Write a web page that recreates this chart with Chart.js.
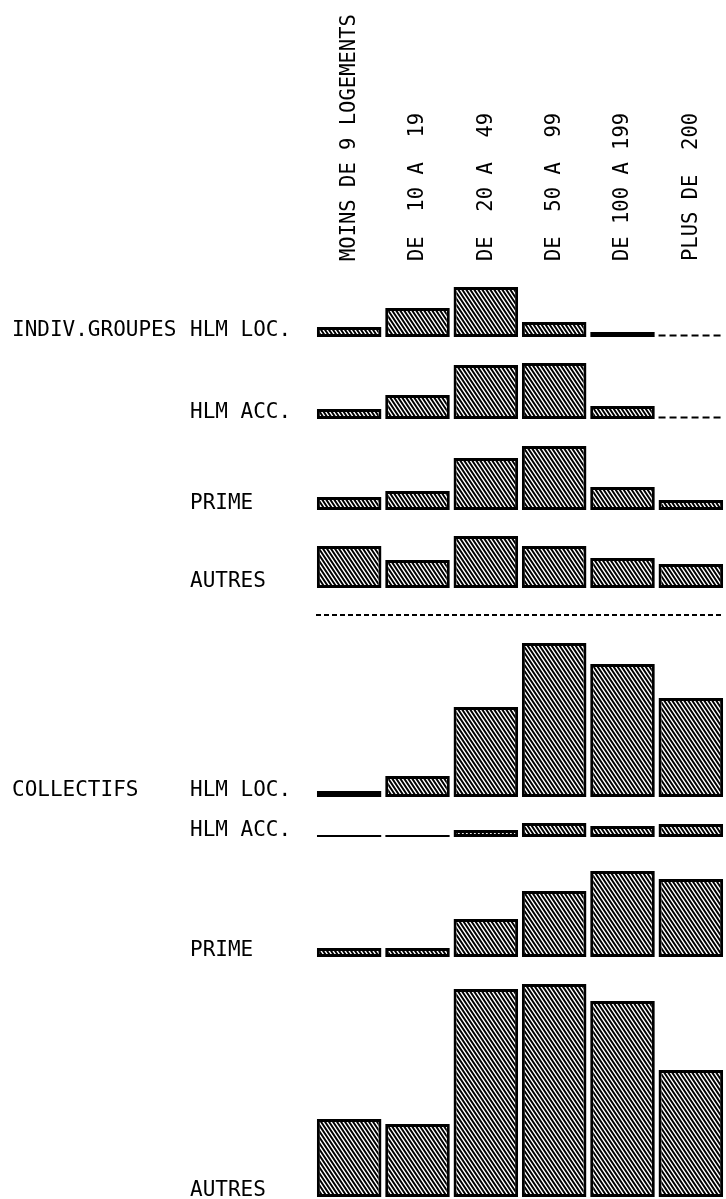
<!DOCTYPE html>
<html>
<head>
<meta charset="utf-8">
<title>Logements selon la taille de l'opération</title>
<script src="https://cdn.jsdelivr.net/npm/chart.js@4.4.1/dist/chart.umd.min.js"></script>
<style>
  html, body { margin: 0; padding: 0; background: #fff; }
  #wrap { width: 726px; height: 1199px; }
</style>
</head>
<body>
<div id="wrap"><canvas id="chart" width="726" height="1199"></canvas></div>
<script>
// size classes (columns)
const sizeLabels = ['MOINS DE 9 LOGEMENTS', 'DE  10 A  19', 'DE  20 A  49', 'DE  50 A  99', 'DE 100 A 199', 'PLUS DE  200'];
const groupLabels = ['INDIV.GROUPES', 'COLLECTIFS'];
const typeLabels = ['HLM LOC.', 'HLM ACC.', 'PRIME', 'AUTRES'];

// values (same unit for every row)
const indivHlmLoc = [10, 29, 50, 15, 5, 0];
const indivHlmAcc = [10, 24, 54, 56, 13, 0];
const indivPrime  = [13, 19, 52, 64, 23, 10];
const indivAutres = [42, 28, 52, 42, 30, 24];
const collHlmLoc  = [6, 21, 90, 154, 133, 99];
const collHlmAcc  = [2, 2, 7, 14, 11, 13];
const collPrime   = [9, 9, 38, 66, 86, 78];
const collAutres  = [78, 73, 208, 213, 196, 127];

const series = [indivHlmLoc, indivHlmAcc, indivPrime, indivAutres,
                collHlmLoc, collHlmAcc, collPrime, collAutres];

// vertical room given to each row, in value units
const rowSpan = [70, 82, 91, 78, 209, 40, 120, 240];

// diagonal hatching like the plotter fill
function makeHatch() {
    const c = document.createElement('canvas');
    c.width = 4; c.height = 6;
    const g = c.getContext('2d');
    const img = g.createImageData(4, 6);
    for (let y = 0; y < 6; y++) {
        for (let x = 0; x < 4; x++) {
            let cover = 0;
            for (let sy = 0; sy < 4; sy++) {
                for (let sx = 0; sx < 4; sx++) {
                    const px = x + (sx + 0.5) / 4, py = y + (sy + 0.5) / 4;
                    const t = ((px - py * 4 / 6) % 4 + 4) % 4;
                    if (t < 2.3) cover++;
                }
            }
            const v = Math.round(255 * (1 - cover / 16));
            const k = (y * 4 + x) * 4;
            img.data[k] = v; img.data[k + 1] = v; img.data[k + 2] = v; img.data[k + 3] = 255;
        }
    }
    g.putImageData(img, 0, 0);
    return document.getElementById('chart').getContext('2d').createPattern(c, 'repeat');
}
const hatch = makeHatch();

const monoFont = '"DejaVu Sans Mono", "Liberation Mono", monospace';

const scales = {
    x: {
        type: 'category',
        position: 'top',
        offset: true,
        grid: { display: false, drawTicks: false },
        border: { display: false },
        ticks: {
            autoSkip: false,
            minRotation: 90,
            maxRotation: 90,
            padding: 6,
            labelOffset: 25,
            color: '#000',
            font: { family: monoFont, size: 20.5 }
        },
        afterFit: s => { s.height = 253; }
    }
};
series.forEach((_, i) => {
    scales['y' + i] = {
        type: 'linear',
        position: 'left',
        stack: 'rows',
        stackWeight: rowSpan[i],
        weight: series.length - i,
        min: 0,
        max: rowSpan[i],
        display: false
    };
});

// row names, dashed empty classes and the separator line
const rowDecor = {
    id: 'rowDecor',
    afterDatasetsDraw(chart) {
        const ctx = chart.ctx;
        ctx.save();
        ctx.fillStyle = '#000';
        ctx.strokeStyle = '#000';
        ctx.font = '21px ' + monoFont;
        ctx.textBaseline = 'alphabetic';
        ctx.textAlign = 'left';
        series.forEach((data, i) => {
            const y = chart.scales['y' + i].getPixelForValue(0);
            ctx.fillText(typeLabels[i % 4], 190, y - 1);
            if (i % 4 === 0) ctx.fillText(groupLabels[i / 4], 12, y - 1);
            chart.getDatasetMeta(i).data.forEach((bar, j) => {
                if (data[j] !== 0) return;
                const p = bar.getProps(['x', 'width'], true);
                ctx.setLineDash([7, 4]);
                ctx.lineWidth = 2;
                ctx.beginPath();
                ctx.moveTo(p.x - p.width / 2, y - 1.5);
                ctx.lineTo(p.x + p.width / 2, y - 1.5);
                ctx.stroke();
            });
        });
        const sy = chart.scales.y4.top + 27;
        ctx.setLineDash([5, 3]);
        ctx.lineWidth = 2;
        ctx.beginPath();
        ctx.moveTo(chart.chartArea.left + 1, sy);
        ctx.lineTo(chart.chartArea.right - 1, sy);
        ctx.stroke();
        ctx.restore();
    }
};

new Chart(document.getElementById('chart'), {
    type: 'bar',
    data: {
        labels: sizeLabels,
        datasets: series.map((data, i) => ({
            data: data,
            yAxisID: 'y' + i,
            grouped: false,
            backgroundColor: hatch,
            borderColor: '#000',
            borderWidth: 3,
            borderSkipped: false,
            barPercentage: 0.945,
            categoryPercentage: 1
        }))
    },
    options: {
        responsive: false,
        animation: false,
        devicePixelRatio: 1,
        layout: { padding: { left: 315, right: 1, top: 14, bottom: 2 } },
        scales: scales,
        plugins: {
            legend: { display: false },
            tooltip: { enabled: false },
            title: { display: false }
        }
    },
    plugins: [rowDecor]
});
</script>
</body>
</html>
